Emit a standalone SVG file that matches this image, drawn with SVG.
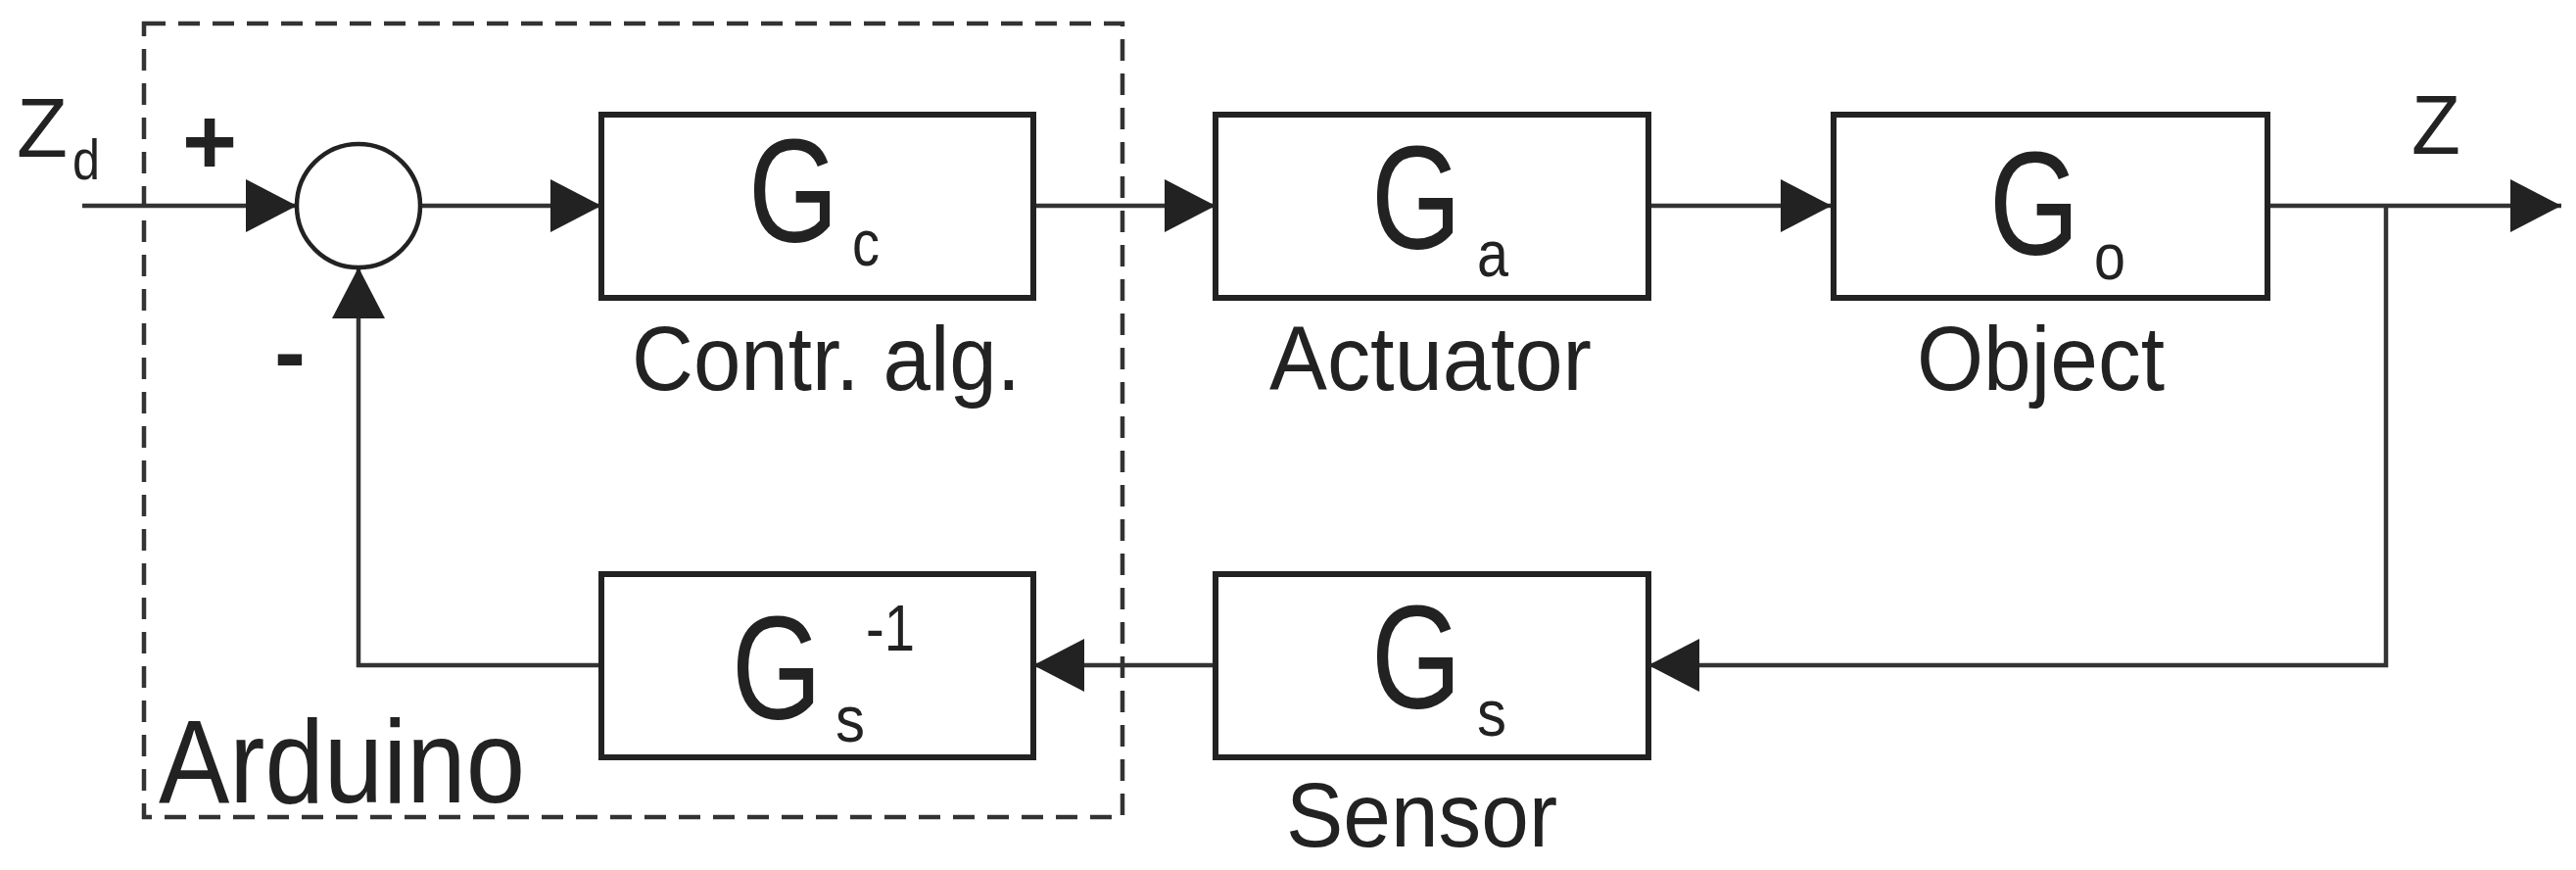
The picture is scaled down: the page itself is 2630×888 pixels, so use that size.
<svg xmlns="http://www.w3.org/2000/svg" width="2630" height="888" viewBox="0 0 2630 888">
<style>
.b{fill:#fff;stroke:#222;stroke-width:6}
.l{fill:none;stroke:#333;stroke-width:4.5}
text{font-family:"Liberation Sans",Arial,sans-serif;fill:#222}
.G{font-size:150px}
.s{font-size:66px}
.lab{font-size:92px}
</style>
<defs><marker id="a" markerWidth="52" markerHeight="54" refX="52" refY="27" markerUnits="userSpaceOnUse" orient="auto"><path d="M0,0 L52,27 L0,54 Z" fill="#222"/></marker></defs>
<rect x="147" y="24" width="999" height="810" fill="none" stroke="#333" stroke-width="4.5" stroke-dasharray="22,13"/>
<g id="connectors">
<path class="l" d="M84,210 H303" marker-end="url(#a)"/>
<path class="l" d="M429,210 H614" marker-end="url(#a)"/>
<path class="l" d="M1055,210 H1241" marker-end="url(#a)"/>
<path class="l" d="M1683,210 H1870" marker-end="url(#a)"/>
<path class="l" d="M2315,210 H2615" marker-end="url(#a)"/>
<path class="l" d="M2436,210 V679 H1683" marker-end="url(#a)"/>
<path class="l" d="M1241,679 H1055" marker-end="url(#a)"/>
<path class="l" d="M614,679 H366 V273" marker-end="url(#a)"/>
</g>
<g id="sum"><circle cx="366" cy="210" r="63" fill="#fff" stroke="#222" stroke-width="4.5"/></g>
<g id="gc"><rect class="b" x="614" y="117" width="441" height="187"/><text class="G" x="764" y="247" textLength="92" lengthAdjust="spacingAndGlyphs">G</text><text class="s" x="870" y="271" textLength="28" lengthAdjust="spacingAndGlyphs">c</text><text class="lab" x="645" y="398" textLength="397" lengthAdjust="spacingAndGlyphs">Contr. alg.</text></g>
<g id="ga"><rect class="b" x="1241" y="117" width="442" height="187"/><text class="G" x="1400" y="254" textLength="92" lengthAdjust="spacingAndGlyphs">G</text><text class="s" x="1508" y="282" textLength="32" lengthAdjust="spacingAndGlyphs">a</text><text class="lab" x="1296" y="398" textLength="329" lengthAdjust="spacingAndGlyphs">Actuator</text></g>
<g id="go"><rect class="b" x="1872" y="117" width="443" height="187"/><text class="G" x="2031" y="260" textLength="92" lengthAdjust="spacingAndGlyphs">G</text><text class="s" x="2138" y="285" textLength="32" lengthAdjust="spacingAndGlyphs">o</text><text class="lab" x="1957" y="398" textLength="253" lengthAdjust="spacingAndGlyphs">Object</text></g>
<g id="gs"><rect class="b" x="1241" y="586" width="442" height="187"/><text class="G" x="1400" y="723" textLength="92" lengthAdjust="spacingAndGlyphs">G</text><text class="s" x="1508" y="751" textLength="30" lengthAdjust="spacingAndGlyphs">s</text><text class="lab" x="1313" y="864" textLength="277" lengthAdjust="spacingAndGlyphs">Sensor</text></g>
<g id="gsinv"><rect class="b" x="614" y="586" width="441" height="187"/><text class="G" x="747" y="734" textLength="92" lengthAdjust="spacingAndGlyphs">G</text><text class="s" x="853" y="757" textLength="30" lengthAdjust="spacingAndGlyphs">s</text><text class="s" x="884" y="664" textLength="50" lengthAdjust="spacingAndGlyphs">-1</text></g>
<text x="17" y="160" font-size="86" textLength="52" lengthAdjust="spacingAndGlyphs">Z</text><text x="74" y="183" font-size="58" textLength="28" lengthAdjust="spacingAndGlyphs">d</text>
<text x="186" y="178" font-size="96" font-weight="bold">+</text>
<text x="280" y="392" font-size="96" font-weight="bold">-</text>
<text x="2462" y="157" font-size="86" textLength="50" lengthAdjust="spacingAndGlyphs">Z</text>
<text x="162" y="819" font-size="120" textLength="374" lengthAdjust="spacingAndGlyphs">Arduino</text>
</svg>
